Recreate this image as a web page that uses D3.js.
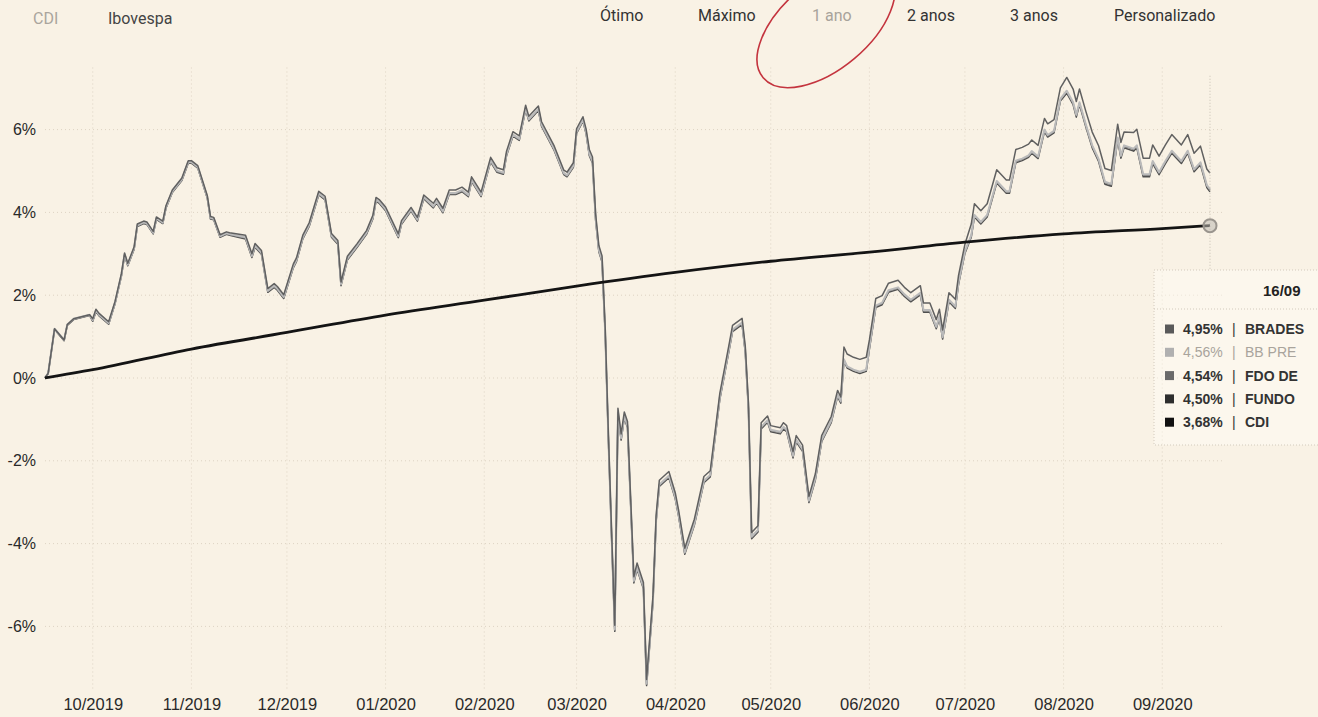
<!DOCTYPE html>
<html>
<head>
<meta charset="utf-8">
<script src="https://cdn.jsdelivr.net/npm/d3@7"></script>
<style>
  html, body { margin: 0; padding: 0; background: #f9f2e5; }
  svg { display: block; overflow: hidden; }
</style>
</head>
<body>
<svg id="chart" width="1318" height="717"></svg>
<script>
// ---------- DATA ----------
const dates = [
"2019-09-16","2019-09-17","2019-09-19","2019-09-22","2019-09-23","2019-09-25","2019-09-30","2019-10-01","2019-10-02","2019-10-03",
"2019-10-06","2019-10-08","2019-10-10","2019-10-11","2019-10-12","2019-10-14","2019-10-15","2019-10-17","2019-10-18","2019-10-20",
"2019-10-21","2019-10-23","2019-10-24","2019-10-26","2019-10-29","2019-10-31","2019-11-01","2019-11-03","2019-11-06","2019-11-07",
"2019-11-08","2019-11-10","2019-11-12","2019-11-13","2019-11-18","2019-11-20","2019-11-21","2019-11-23","2019-11-25","2019-11-27",
"2019-11-28","2019-11-30","2019-12-03","2019-12-04","2019-12-06","2019-12-08","2019-12-11","2019-12-13","2019-12-15","2019-12-17",
"2019-12-18","2019-12-20","2019-12-23","2019-12-26","2019-12-28","2019-12-29","2019-12-30","2020-01-01","2020-01-05","2020-01-06",
"2020-01-09","2020-01-11","2020-01-13","2020-01-16","2020-01-17","2020-01-19","2020-01-21","2020-01-23","2020-01-25","2020-01-27",
"2020-01-28","2020-01-31","2020-02-03","2020-02-05","2020-02-07","2020-02-08","2020-02-10","2020-02-12","2020-02-14","2020-02-15",
"2020-02-18","2020-02-19","2020-02-23","2020-02-26","2020-02-27","2020-02-29","2020-03-01","2020-03-03","2020-03-04","2020-03-05",
"2020-03-06","2020-03-07","2020-03-08","2020-03-09","2020-03-10","2020-03-11","2020-03-12","2020-03-13","2020-03-14","2020-03-15",
"2020-03-16","2020-03-17","2020-03-18","2020-03-19","2020-03-20","2020-03-22","2020-03-23","2020-03-25","2020-03-26","2020-03-27",
"2020-03-30","2020-04-01","2020-04-02","2020-04-04","2020-04-07","2020-04-10","2020-04-12","2020-04-15","2020-04-18","2020-04-19",
"2020-04-22","2020-04-23","2020-04-24","2020-04-25","2020-04-27","2020-04-28","2020-04-30","2020-05-01","2020-05-04","2020-05-05",
"2020-05-06","2020-05-08","2020-05-09","2020-05-11","2020-05-13","2020-05-15","2020-05-17","2020-05-20","2020-05-22","2020-05-23",
"2020-05-24","2020-05-25","2020-05-27","2020-05-29","2020-05-31","2020-06-01","2020-06-03","2020-06-05","2020-06-07","2020-06-10",
"2020-06-12","2020-06-14","2020-06-17","2020-06-18","2020-06-20","2020-06-22","2020-06-23","2020-06-24","2020-06-26","2020-06-28",
"2020-06-29","2020-07-01","2020-07-03","2020-07-04","2020-07-06","2020-07-08","2020-07-11","2020-07-14","2020-07-15","2020-07-17",
"2020-07-19","2020-07-21","2020-07-22","2020-07-24","2020-07-26","2020-07-27","2020-07-29","2020-07-31","2020-08-02","2020-08-04",
"2020-08-05","2020-08-06","2020-08-08","2020-08-10","2020-08-12","2020-08-14","2020-08-16","2020-08-18","2020-08-19","2020-08-20",
"2020-08-23","2020-08-24","2020-08-26","2020-08-28","2020-08-29","2020-08-31","2020-09-02","2020-09-04","2020-09-07","2020-09-09",
"2020-09-11","2020-09-13","2020-09-15","2020-09-16"
];

const bradesco = [
0,0.12,1.19,0.92,1.29,1.43,1.53,1.43,1.66,1.56,
1.36,1.85,2.52,3.02,2.77,3.17,3.72,3.79,3.77,3.54,
3.89,3.79,4.16,4.54,4.83,5.25,5.25,5.13,4.40,3.90,
3.88,3.46,3.53,3.51,3.45,3.00,3.25,3.08,2.16,2.28,
2.21,2.01,2.75,2.90,3.45,3.75,4.51,4.39,3.49,3.32,
2.32,2.94,3.24,3.56,3.93,4.36,4.31,4.13,3.48,3.80,
4.12,3.88,4.42,4.22,4.34,4.10,4.54,4.54,4.61,4.49,
4.86,4.49,5.33,5.08,5.03,5.48,5.95,5.85,6.59,6.32,
6.57,6.19,5.60,5.02,4.97,5.20,6.02,6.31,6.01,5.52,
5.34,3.95,3.20,2.95,1.20,-1.36,-3.70,-5.97,-0.73,-1.35,
-0.82,-1.05,-2.93,-4.80,-4.47,-4.94,-7.28,-5.27,-3.31,-2.47,
-2.26,-2.77,-3.17,-4.11,-3.41,-2.38,-2.24,-0.37,0.85,1.27,
1.44,0.77,-0.61,-3.73,-3.57,-1.08,-0.92,-1.15,-1.20,-1.08,
-1.15,-1.78,-1.39,-1.62,-2.86,-2.32,-1.39,-0.93,-0.30,-0.46,
0.75,0.58,0.50,0.45,0.50,0.92,1.92,1.99,2.29,2.36,
2.19,2.06,2.23,1.81,1.81,1.41,1.66,1.16,2.06,1.90,
2.48,3.23,3.72,4.21,4.04,4.21,5.03,4.78,4.78,5.52,
5.57,5.65,5.75,5.62,6.27,6.14,6.24,7.01,7.26,6.98,
6.68,6.98,6.44,5.94,5.61,5.06,5.01,6.13,5.69,5.94,
5.93,6.01,5.31,5.31,5.63,5.36,5.63,5.88,5.63,5.88,
5.43,5.60,5.05,4.95
];

const bbPrev = [
0,0.12,1.19,0.92,1.29,1.43,1.53,1.40,1.63,1.53,
1.33,1.82,2.49,2.99,2.74,3.14,3.69,3.76,3.74,3.51,
3.86,3.76,4.13,4.51,4.80,5.22,5.22,5.10,4.37,3.87,
3.85,3.43,3.50,3.48,3.40,2.95,3.20,3.03,2.11,2.23,
2.16,1.96,2.70,2.85,3.40,3.70,4.46,4.34,3.44,3.27,
2.27,2.89,3.19,3.51,3.88,4.31,4.26,4.08,3.43,3.75,
4.07,3.83,4.37,4.15,4.27,4.03,4.47,4.47,4.54,4.42,
4.79,4.42,5.26,5.01,4.96,5.41,5.88,5.78,6.52,6.25,
6.50,6.12,5.53,4.95,4.90,5.13,5.95,6.24,5.94,5.42,
5.24,3.85,3.10,2.85,1.10,-1.46,-3.80,-6.07,-0.83,-1.45,
-0.92,-1.15,-3.03,-4.90,-4.57,-5.04,-7.38,-5.37,-3.41,-2.57,
-2.36,-2.87,-3.27,-4.21,-3.51,-2.48,-2.34,-0.47,0.75,1.17,
1.34,0.67,-0.71,-3.83,-3.67,-1.18,-1.02,-1.25,-1.30,-1.18,
-1.25,-1.88,-1.49,-1.72,-2.96,-2.42,-1.49,-1.03,-0.40,-0.56,
0.45,0.28,0.20,0.15,0.20,0.75,1.75,1.82,2.12,2.19,
2.02,1.89,2.06,1.64,1.64,1.24,1.49,0.99,1.89,1.73,
2.31,3.06,3.45,3.94,3.77,3.94,4.76,4.51,4.51,5.25,
5.30,5.38,5.48,5.35,6.00,5.87,5.97,6.74,6.94,6.66,
6.36,6.66,6.12,5.62,5.29,4.74,4.69,5.81,5.37,5.62,
5.54,5.62,4.92,4.92,5.24,4.97,5.24,5.49,5.24,5.49,
5.04,5.21,4.66,4.56
];

const fdoDe = [
0,0.11,1.18,0.91,1.28,1.42,1.52,1.38,1.61,1.51,
1.31,1.80,2.47,2.97,2.72,3.12,3.67,3.74,3.72,3.49,
3.84,3.74,4.11,4.49,4.78,5.20,5.20,5.08,4.35,3.85,
3.83,3.41,3.48,3.46,3.38,2.93,3.18,3.01,2.09,2.21,
2.14,1.94,2.68,2.83,3.38,3.68,4.44,4.32,3.42,3.25,
2.25,2.87,3.17,3.49,3.86,4.29,4.24,4.06,3.41,3.73,
4.05,3.81,4.35,4.13,4.25,4.01,4.45,4.45,4.52,4.40,
4.77,4.40,5.24,4.99,4.94,5.39,5.86,5.76,6.50,6.23,
6.48,6.10,5.51,4.93,4.88,5.11,5.93,6.22,5.92,5.40,
5.22,3.83,3.08,2.83,1.08,-1.48,-3.82,-6.09,-0.85,-1.47,
-0.94,-1.17,-3.05,-4.92,-4.59,-5.06,-7.40,-5.39,-3.43,-2.59,
-2.38,-2.89,-3.29,-4.23,-3.53,-2.50,-2.36,-0.49,0.73,1.15,
1.32,0.65,-0.73,-3.85,-3.69,-1.20,-1.04,-1.27,-1.32,-1.20,
-1.27,-1.90,-1.51,-1.74,-2.98,-2.44,-1.51,-1.05,-0.42,-0.58,
0.44,0.27,0.19,0.14,0.19,0.73,1.73,1.80,2.10,2.17,
2.00,1.87,2.04,1.62,1.62,1.22,1.47,0.97,1.87,1.71,
2.29,3.04,3.43,3.92,3.75,3.92,4.74,4.49,4.49,5.23,
5.28,5.36,5.46,5.33,5.98,5.85,5.95,6.72,6.92,6.64,
6.34,6.64,6.10,5.60,5.27,4.72,4.67,5.79,5.35,5.60,
5.52,5.60,4.90,4.90,5.22,4.95,5.22,5.47,5.22,5.47,
5.02,5.19,4.64,4.54
];

const fundo = [
0,0.10,1.17,0.90,1.27,1.41,1.51,1.37,1.60,1.50,
1.30,1.79,2.46,2.96,2.71,3.11,3.66,3.73,3.71,3.48,
3.83,3.73,4.10,4.48,4.77,5.19,5.19,5.07,4.34,3.84,
3.82,3.40,3.47,3.45,3.36,2.91,3.16,2.99,2.07,2.19,
2.12,1.92,2.66,2.81,3.36,3.66,4.42,4.30,3.40,3.23,
2.23,2.85,3.15,3.47,3.84,4.27,4.22,4.04,3.39,3.71,
4.03,3.79,4.33,4.11,4.23,3.99,4.43,4.43,4.50,4.38,
4.75,4.38,5.22,4.97,4.92,5.37,5.84,5.74,6.48,6.21,
6.46,6.08,5.49,4.91,4.86,5.09,5.91,6.20,5.90,5.37,
5.19,3.80,3.05,2.80,1.05,-1.51,-3.85,-6.12,-0.88,-1.50,
-0.97,-1.20,-3.08,-4.95,-4.62,-5.09,-7.43,-5.42,-3.46,-2.62,
-2.41,-2.92,-3.32,-4.26,-3.56,-2.53,-2.39,-0.52,0.70,1.12,
1.29,0.62,-0.76,-3.88,-3.72,-1.23,-1.07,-1.30,-1.35,-1.23,
-1.30,-1.93,-1.54,-1.77,-3.01,-2.47,-1.54,-1.08,-0.45,-0.61,
0.41,0.24,0.16,0.11,0.16,0.70,1.70,1.77,2.07,2.14,
1.97,1.84,2.01,1.59,1.59,1.19,1.44,0.94,1.84,1.68,
2.26,3.01,3.40,3.89,3.72,3.89,4.71,4.46,4.46,5.20,
5.25,5.33,5.43,5.30,5.95,5.82,5.92,6.69,6.88,6.60,
6.30,6.60,6.06,5.56,5.23,4.68,4.63,5.75,5.31,5.56,
5.48,5.56,4.86,4.86,5.18,4.91,5.18,5.43,5.18,5.43,
4.98,5.15,4.60,4.50
];

const cdiDates = ["2019-09-16","2019-10-01","2019-11-01","2019-12-01","2020-01-01","2020-02-01","2020-03-01",
                  "2020-04-01","2020-05-01","2020-06-01","2020-07-01","2020-08-01","2020-09-01","2020-09-16"];
const cdiValues = [0,0.20,0.70,1.10,1.52,1.88,2.22,2.55,2.82,3.04,3.28,3.48,3.61,3.68];

// tooltip texts as visible in the (cropped) reference
const seriesNames  = ["BRADES", "BB PRE", "FDO DE", "FUNDO", "CDI"];
const tipValues    = ["4,95%", "4,56%", "4,54%", "4,50%", "3,68%"];
const tipDate      = "16/09";
const yTicks       = [-6, -4, -2, 0, 2, 4, 6];
const topLeftLabels = ["CDI", "Ibovespa"];
const rangeLabels   = ["Ótimo", "Máximo", "1 ano", "2 anos", "3 anos", "Personalizado"];

// ---------- STYLES ----------
const lineColors  = ["#606060", "#bababa", "#7e7e7e", "#4e4e4e", "#141414"];
const lineWidths  = [1.5, 2.0, 1.5, 1.5, 2.8];
const swatchColors = ["#5a5a5a", "#b0b0b0", "#6a6a6a", "#2e2e2e", "#111111"];

// ---------- CHART ----------
const svg = d3.select("#chart");
const parse = d3.timeParse("%Y-%m-%d");
const xDates = dates.map(parse);
const cdiX = cdiDates.map(parse);

const x = d3.scaleTime()
  .domain([parse("2019-09-16"), parse("2020-09-16")])
  .range([45, 1210]);
const y = d3.scaleLinear()
  .domain([-7.5, 7.5])
  .range([688.5, 67.5]);

const labelFont = "'Liberation Sans', Arial, sans-serif";
const uiFont = "Roboto, 'Liberation Sans', sans-serif";

// grid
const monthTicks = d3.timeMonth.range(parse("2019-10-01"), parse("2020-09-02"));
svg.append("g")
  .selectAll("line")
  .data(monthTicks)
  .join("line")
  .attr("x1", d => x(d)).attr("x2", d => x(d))
  .attr("y1", y(7.5)).attr("y2", y(-7.5))
  .attr("stroke", "#ddd3c3").attr("stroke-width", 1)
  .attr("stroke-dasharray", "1,3");

svg.append("g")
  .selectAll("line")
  .data(yTicks)
  .join("line")
  .attr("x1", x.range()[0]).attr("x2", 1222)
  .attr("y1", d => y(d)).attr("y2", d => y(d))
  .attr("stroke", "#ddd3c3").attr("stroke-width", 1)
  .attr("stroke-dasharray", "1,3");

// axes
const yAxis = svg.append("g")
  .attr("transform", `translate(${x.range()[0]},0)`)
  .call(d3.axisLeft(y).tickValues(yTicks).tickSize(0).tickPadding(9).tickFormat(d => d + "%"));
yAxis.select(".domain").remove();
yAxis.selectAll("text").attr("font-family", labelFont).attr("font-size", 16).attr("fill", "#2a2a2a");

const xAxis = svg.append("g")
  .attr("transform", `translate(0,${y(-7.5)})`)
  .call(d3.axisBottom(x).tickValues(monthTicks).tickSize(0).tickPadding(10).tickFormat(d3.timeFormat("%m/%Y")));
xAxis.select(".domain").remove();
xAxis.selectAll("text").attr("font-family", labelFont).attr("font-size", 16.5).attr("fill", "#2a2a2a");

// fund lines
const line = d3.line()
  .x(d => x(d[0]))
  .y(d => y(d[1]))
  .curve(d3.curveLinear);

const fundSeries = [bradesco, bbPrev, fdoDe, fundo];
const drawOrder = [3, 2, 1, 0];
drawOrder.forEach(i => {
  svg.append("path")
    .datum(xDates.map((d, j) => [d, fundSeries[i][j]]))
    .attr("fill", "none")
    .attr("stroke", lineColors[i])
    .attr("stroke-width", lineWidths[i])
    .attr("stroke-linejoin", "round")
    .attr("d", line);
});

// CDI
const cdiLine = d3.line()
  .x(d => x(d[0]))
  .y(d => y(d[1]))
  .curve(d3.curveMonotoneX);
svg.append("path")
  .datum(cdiX.map((d, j) => [d, cdiValues[j]]))
  .attr("fill", "none")
  .attr("stroke", lineColors[4])
  .attr("stroke-width", lineWidths[4])
  .attr("d", cdiLine);

// hover crosshair + marker
const endDate = cdiX[cdiX.length - 1];
svg.append("line")
  .attr("x1", x(endDate)).attr("x2", x(endDate))
  .attr("y1", y(7.3)).attr("y2", 270)
  .attr("stroke", "#c8c0b3").attr("stroke-dasharray", "1,2");
svg.append("circle")
  .attr("cx", x(endDate)).attr("cy", y(cdiValues[cdiValues.length - 1]))
  .attr("r", 6.5)
  .attr("fill", "rgba(190,185,178,0.55)")
  .attr("stroke", "#9a958e").attr("stroke-width", 2);

// tooltip
const tip = svg.append("g");
tip.append("rect")
  .attr("x", 1154).attr("y", 270).attr("width", 200).attr("height", 175)
  .attr("fill", "rgba(255,252,246,0.45)")
  .attr("stroke", "#d2cabd").attr("stroke-dasharray", "1,2");
tip.append("line")
  .attr("x1", 1154).attr("x2", 1318).attr("y1", 309).attr("y2", 309)
  .attr("stroke", "#d2cabd").attr("stroke-dasharray", "1,2");
tip.append("text")
  .attr("x", 1263).attr("y", 296)
  .attr("font-family", labelFont).attr("font-size", 15).attr("font-weight", "bold")
  .attr("fill", "#222").text(tipDate);

const rows = tip.selectAll("g.row")
  .data(seriesNames.map((n, i) => ({ name: n, value: tipValues[i], i })))
  .join("g").attr("class", "row")
  .attr("transform", d => `translate(0,${329 + d.i * 23.3})`);
rows.append("rect")
  .attr("x", 1165).attr("y", -4.5).attr("width", 9).attr("height", 9)
  .attr("fill", d => swatchColors[d.i]);
const rowColor = d => d.i === 1 ? "#a9a49c" : "#333";
rows.append("text")
  .attr("x", 1183).attr("y", 5)
  .attr("font-family", labelFont).attr("font-size", 14).attr("font-weight", d => d.i === 1 ? "normal" : "bold")
  .attr("fill", rowColor).text(d => d.value);
rows.append("text")
  .attr("x", 1232).attr("y", 5)
  .attr("font-family", labelFont).attr("font-size", 14)
  .attr("fill", rowColor).text("|");
rows.append("text")
  .attr("x", 1245).attr("y", 5)
  .attr("font-family", labelFont).attr("font-size", 14).attr("font-weight", d => d.i === 1 ? "normal" : "bold")
  .attr("fill", rowColor).text(d => d.name);

// top-left toggles
const tlX = [33, 108];
const tlColor = ["#aaa59d", "#444"];
svg.append("g").selectAll("text")
  .data(topLeftLabels).join("text")
  .attr("x", (d, i) => tlX[i]).attr("y", 24)
  .attr("font-family", uiFont).attr("font-size", 16)
  .attr("fill", (d, i) => tlColor[i]).text(d => d);

// range selectors
const rX = [600, 698, 812, 907, 1010, 1114];
svg.append("g").selectAll("text")
  .data(rangeLabels).join("text")
  .attr("x", (d, i) => rX[i]).attr("y", 21)
  .attr("font-family", uiFont).attr("font-size", 16)
  .attr("fill", (d, i) => i === 2 ? "#a8a39b" : "#333").text(d => d);

// hand-drawn red circle around "1 ano"
svg.append("ellipse")
  .attr("cx", 826).attr("cy", 25).attr("rx", 82).attr("ry", 44)
  .attr("transform", "rotate(-40 826 25)")
  .attr("fill", "none").attr("stroke", "#c4343e").attr("stroke-width", 1.6);
</script>
</body>
</html>
